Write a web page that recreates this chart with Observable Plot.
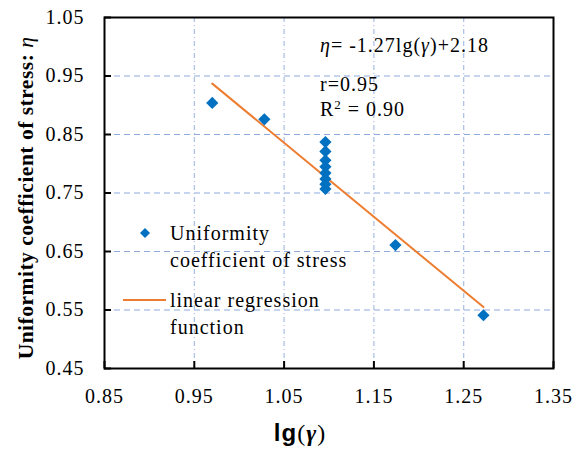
<!DOCTYPE html>
<html><head><meta charset="utf-8">
<script src="https://cdn.jsdelivr.net/npm/d3@7"></script>
<script src="https://cdn.jsdelivr.net/npm/@observablehq/plot@0.6"></script>
<style>body{margin:0;background:#fff}</style>
</head><body><div id="chart"></div>
<script>
const lgX = [0.970, 1.028, 1.096, 1.096, 1.096, 1.096, 1.096, 1.096, 1.096, 1.096, 1.174, 1.272];
const eta = [0.904, 0.876, 0.837, 0.821, 0.806, 0.795, 0.784, 0.774, 0.765, 0.757, 0.661, 0.541];
const regX = [0.970, 1.272];
const regY = [0.937, 0.555];
const xTicks = [0.85, 0.95, 1.05, 1.15, 1.25, 1.35];
const yTicks = [0.45, 0.55, 0.65, 0.75, 0.85, 0.95, 1.05];
const xGrid = [0.95, 1.05, 1.15, 1.25];
const yGrid = [0.55, 0.65, 0.75, 0.85, 0.95];

const pts = lgX.map((x, i) => ({x, y: eta[i]}));
const reg = regX.map((x, i) => ({x, y: regY[i]}));
const fmt = d3.format(".2f");
const font = "'Liberation Serif', 'Times New Roman', serif";
const W = 573, H = 450, mL = 104, mR = 20, mT = 17, mB = 82;
const TL = 7;

const svg = Plot.plot({
  width: W, height: H,
  marginLeft: mL, marginRight: mR, marginTop: mT, marginBottom: mB,
  style: {fontFamily: font, fontSize: "20px", color: "#000", background: "#fff", letterSpacing: "1px"},
  x: {domain: [0.85, 1.35]},
  y: {domain: [0.45, 1.05]},
  marks: [
    Plot.ruleY(yGrid, {stroke: "#8eaadb", strokeWidth: 1.2, strokeDasharray: "6,4"}),
    Plot.ruleX(xGrid, {stroke: "#a9bde3", strokeWidth: 1.2, strokeDasharray: "5,3,1,3"}),
    Plot.tickX(xTicks, {x: d => d, insetTop: H - mT - mB - TL, stroke: "#000", strokeWidth: 2}),
    Plot.tickY(yTicks, {y: d => d, insetRight: W - mL - mR - TL, stroke: "#000", strokeWidth: 2}),
    Plot.axisX(xTicks, {tickSize: 0, tickPadding: 20, tickFormat: fmt, fontSize: 20, label: null}),
    Plot.axisY(yTicks, {tickSize: 0, tickPadding: 20, tickFormat: fmt, fontSize: 20, label: null}),
    Plot.line(reg, {x: "x", y: "y", stroke: "#ed7d31", strokeWidth: 2}),
    Plot.dot(pts, {x: "x", y: "y", symbol: "diamond2", r: 5.5, fill: "#0070c0", stroke: "none"}),
    Plot.frame({stroke: "#000", strokeWidth: 2})
  ]
});
document.getElementById("chart").append(svg);

const s = d3.select(svg);
function txt(x, y, parts, opts = {}) {
  const t = s.append("text").attr("x", x).attr("y", y)
    .style("font-family", font).attr("font-size", opts.size || 20).attr("fill", "#000")
    .attr("text-anchor", opts.anchor || "start");
  if (opts.transform) t.attr("transform", opts.transform);
  if (opts.ls != null) t.style("letter-spacing", opts.ls);
  for (const p of parts) {
    const ts = t.append("tspan").text(p.t);
    if (p.i) ts.attr("font-style", "italic");
    if (p.f) ts.style("font-family", p.f);
    if (p.w) ts.attr("font-weight", p.w);
    if (p.dy) ts.attr("dy", p.dy);
    if (p.sz) ts.attr("font-size", p.sz);
  }
  return t;
}
// annotations
txt(320, 52, [{t: "η", i: true}, {t: "= -1.27lg("}, {t: "γ", i: true}, {t: ")+2.18"}]);
txt(320, 91, [{t: "r=0.95"}]);
txt(320, 116, [{t: "R"}, {t: "2", sz: 13, dy: -7}, {t: " = 0.90", dy: 7}]);
// legend
s.append("path").attr("d", d3.symbol(d3.symbolSquare, 50)()).attr("transform", "translate(145,233) rotate(45)").attr("fill", "#0070c0");
txt(170, 240, [{t: "Uniformity"}]);
txt(170, 267, [{t: "coefficient of stress"}]);
s.append("line").attr("x1", 123).attr("x2", 166).attr("y1", 300).attr("y2", 300).attr("stroke", "#ed7d31").attr("stroke-width", 2);
txt(170, 307, [{t: "linear regression"}]);
txt(170, 334, [{t: "function"}]);
// axis titles
txt(300, 441, [{t: "lg", f: "'Liberation Sans', Arial, sans-serif", w: "bold"}, {t: "("}, {t: "γ", i: true, w: "bold"}, {t: ")"}], {anchor: "middle", size: 24});
txt(0, 0, [{t: "Uniformity coefficient of stress: ", w: "bold"}, {t: "η", i: true}], {anchor: "middle", size: 21.5, ls: "0.5px", transform: "translate(33,198) rotate(-90)"});
</script></body></html>
